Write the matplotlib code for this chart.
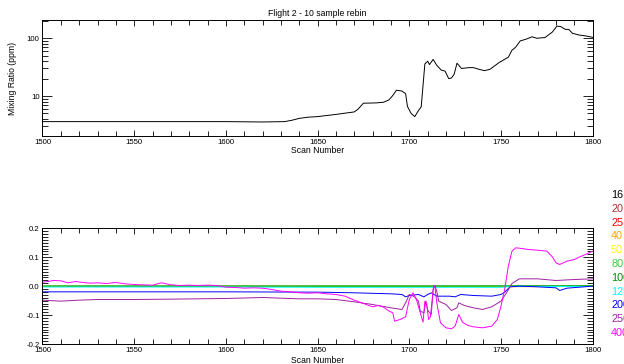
import numpy as np
import matplotlib
matplotlib.use("Agg")
import matplotlib.pyplot as plt
from matplotlib.ticker import MultipleLocator, LogLocator, FixedLocator, NullFormatter, FormatStrFormatter

plt.rcParams["font.family"] = ["Liberation Sans", "DejaVu Sans"]

# ─── Top panel: mixing ratio ──────────────────────────────────────────────────
scan_top = [1500, 1520, 1540, 1560, 1580, 1600, 1620, 1632, 1636, 1640, 1645, 1650, 1660,
            1670, 1672, 1675, 1682, 1686, 1689, 1691, 1693, 1696, 1698, 1699, 1701, 1703,
            1705, 1706.5, 1708.5, 1710, 1711, 1713, 1715, 1717.5, 1719.5, 1721.5, 1723,
            1724.5, 1726, 1728.5, 1732.5, 1735, 1738, 1741, 1744, 1749, 1754, 1756, 1758,
            1760.5, 1763.5, 1767, 1769.5, 1774, 1778, 1780.5, 1782.5, 1785, 1787, 1789,
            1792.5, 1796, 1800]
mixing = [3.6, 3.6, 3.6, 3.6, 3.6, 3.6, 3.55, 3.6, 3.8, 4.1, 4.3, 4.4, 4.8,
          5.3, 5.9, 7.5, 7.6, 7.8, 8.6, 10.2, 12.6, 12.2, 11.0, 6.6, 5.0, 4.4,
          5.6, 6.5, 36, 40, 35, 43, 34, 28, 27, 20, 20.5,
          24, 37, 30, 31, 31, 29, 27.5, 29, 38, 47, 62, 70,
          90, 96, 106, 100, 103, 128, 162, 160, 143, 142, 122,
          114, 110, 104]

# ─── Bottom panel: differences per channel ────────────────────────────────────
labels = ["16", "20", "25", "40", "50", "80", "100", "125", "200", "250", "400"]
colors = ["#000000", "#b03030", "#ff0000", "#ffa500", "#ffff00", "#40d040",
          "#008c00", "#00ffff", "#0000ff", "#a020a0", "#ff00ff"]

flat_x = [1500, 1600, 1700, 1800]
flat_y = [0.0, 0.0, 0.0, 0.0]

x_40 = [1500, 1700, 1755, 1800]
y_40 = [0.0, 0.0, -0.002, -0.001]

y_80 = [0.001, 0.001, 0.001, 0.002]
y_100 = [0.0, 0.0, 0.0, 0.0005]

x_125 = [1500, 1600, 1650, 1700, 1750, 1756, 1800]
y_125 = [-0.003, -0.003, -0.004, -0.004, -0.004, -0.001, -0.001]

x_200 = [1500, 1550, 1600, 1650, 1670, 1690, 1696, 1698, 1700, 1705, 1708, 1710, 1712,
         1715, 1722, 1725, 1728, 1735, 1745, 1750, 1752, 1755, 1760, 1770, 1780, 1782,
         1786, 1800]
y_200 = [-0.0196, -0.0196, -0.0196, -0.0207, -0.023, -0.0265, -0.0288, -0.0369, -0.0323,
         -0.0288, -0.0369, -0.0288, -0.023, -0.0346, -0.0346, -0.0369, -0.0288, -0.0323,
         -0.0346, -0.0288, -0.0207, -0.0023, 0.0, -0.0023, -0.0058, -0.015, -0.0069, 0.0]

x_250 = [1500, 1510, 1520, 1530, 1550, 1570, 1600, 1620, 1640, 1650, 1660, 1670, 1680,
         1690, 1696, 1698, 1700, 1703, 1705, 1706, 1708, 1709, 1710, 1712, 1713, 1714,
         1715, 1716, 1720, 1723, 1726, 1727, 1730, 1735, 1740, 1745, 1750, 1753, 1756,
         1760, 1770, 1780, 1790, 1800]
y_250 = [-0.0484, -0.0518, -0.0484, -0.0461, -0.0461, -0.0449, -0.0426, -0.0392, -0.0438,
         -0.0438, -0.0461, -0.0541, -0.0634, -0.0749, -0.0806, -0.0576, -0.0288, -0.0369,
         -0.0518, -0.0864, -0.0922, -0.0518, -0.0829, -0.0979, -0.0115, 0.0023, -0.0173,
         -0.0518, -0.0634, -0.0841, -0.0749, -0.0576, -0.0668, -0.0749, -0.0806, -0.0714,
         -0.0518, -0.023, 0.0092, 0.0253, 0.0253, 0.0196, 0.023, 0.0253]

x_400 = [1500, 1503, 1506, 1510, 1514, 1518, 1522, 1526, 1530, 1535, 1540, 1545, 1550,
         1555, 1560, 1565, 1570, 1575, 1580, 1585, 1590, 1595, 1600, 1605, 1610, 1615,
         1620, 1625, 1630, 1635, 1640, 1645, 1650, 1655, 1660, 1665, 1670, 1675, 1680,
         1683, 1686, 1689, 1691, 1692, 1695, 1698, 1700, 1702, 1704, 1706, 1707.5, 1708.5,
         1709.5, 1710.5, 1711.5, 1712.5, 1713.3, 1714, 1715, 1717, 1720, 1723, 1725, 1727,
         1729, 1732, 1735, 1740, 1745, 1748, 1750, 1752, 1754, 1756, 1758, 1760, 1765,
         1770, 1775, 1778, 1780, 1782, 1784, 1786, 1790, 1793, 1796, 1800]
y_400 = [0.0138, 0.0161, 0.0196, 0.0184, 0.0115, 0.0161, 0.0127, 0.0104, 0.0115, 0.0092,
         0.0127, 0.0081, 0.0058, 0.0046, 0.0035, 0.0115, 0.0046, 0.0023, 0.0035, 0.0023,
         0.0035, 0.0023, -0.0035, -0.0046, -0.0069, -0.0058, -0.0069, -0.0115, -0.0173,
         -0.0196, -0.023, -0.0242, -0.023, -0.0265, -0.0288, -0.0346, -0.0484, -0.0599,
         -0.0714, -0.0668, -0.0726, -0.0864, -0.0922, -0.121, -0.1152, -0.106, -0.0461,
         -0.023, -0.0484, -0.0922, -0.1244, -0.0518, -0.0599, -0.1152, -0.106, -0.0461,
         0.0023, -0.0023, -0.0576, -0.1267, -0.144, -0.1475, -0.1382, -0.0979, -0.1244,
         -0.1359, -0.1406, -0.144, -0.1382, -0.1152, -0.0691, -0.0115, 0.0691, 0.121,
         0.1325, 0.1313, 0.1267, 0.1244, 0.121, 0.1014, 0.0806, 0.0749, 0.0806, 0.0864,
         0.0922, 0.1014, 0.1094, 0.121]

series = [
    (flat_x, flat_y), (flat_x, flat_y), (flat_x, flat_y), (x_40, y_40), (flat_x, flat_y),
    (flat_x, y_80), (flat_x, y_100), (x_125, y_125), (x_200, y_200), (x_250, y_250),
    (x_400, y_400),
]

FS = 5.6      # tick labels
FS_LAB = 6.2  # title / axis labels
LW = 0.7

fig = plt.figure(figsize=(6.24, 3.64), dpi=100)
ax1 = fig.add_axes([0.0681, 0.6264, 0.8817, 0.3186])
ax2 = fig.add_axes([0.0681, 0.0549, 0.8817, 0.3179])

for ax in (ax1, ax2):
    for sp in ax.spines.values():
        sp.set_linewidth(0.7)
    ax.set_xlim(1500, 1800)
    ax.xaxis.set_major_locator(MultipleLocator(50))
    ax.xaxis.set_minor_locator(MultipleLocator(10))
    ax.tick_params(axis="both", which="both", direction="in", top=True, right=True,
                   labelsize=FS, width=0.6, pad=2)
    ax.tick_params(axis="x", which="major", length=4.5)
    ax.tick_params(axis="x", which="minor", length=3.8)
    ax.tick_params(axis="y", which="major", length=7.5)
    ax.tick_params(axis="y", which="minor", length=4.0)

# top panel
ax1.plot(scan_top, mixing, color="black", lw=LW)
ax1.set_yscale("log")
ax1.set_ylim(2.03, 207)
ax1.yaxis.set_major_locator(FixedLocator([10, 100]))
ax1.yaxis.set_major_formatter(FormatStrFormatter("%d"))
ax1.yaxis.set_minor_locator(LogLocator(base=10, subs=np.arange(2, 10)))
ax1.yaxis.set_minor_formatter(NullFormatter())
ax1.set_title("Flight 2 - 10 sample rebin", fontsize=FS_LAB, pad=3)
ax1.set_xlabel("Scan Number", fontsize=FS_LAB)
ax1.xaxis.set_label_coords(0.5, -0.085)
ax1.set_ylabel("Mixing Ratio (ppm)", fontsize=FS_LAB)
ax1.yaxis.set_label_coords(-0.047, 0.5)

# bottom panel
for (xs, ys), c in zip(series, colors):
    ax2.plot(xs, ys, color=c, lw=LW)
ax2.set_ylim(-0.2, 0.2)
ax2.yaxis.set_major_locator(MultipleLocator(0.1))
ax2.yaxis.set_minor_locator(MultipleLocator(0.01))
ax2.yaxis.set_major_formatter(FormatStrFormatter("%.1f"))
ax2.set_xlabel("Scan Number", fontsize=FS_LAB)
ax2.xaxis.set_label_coords(0.5, -0.105)

# legend labels (cut off at the right edge like the original)
for i, (lab, c) in enumerate(zip(labels, colors)):
    fig.text(611 / 624, 1 - (195 + i * 13.8) / 364, lab, color=c, fontsize=7.8,
             ha="left", va="center")

fig.savefig("out.png", dpi=100)
